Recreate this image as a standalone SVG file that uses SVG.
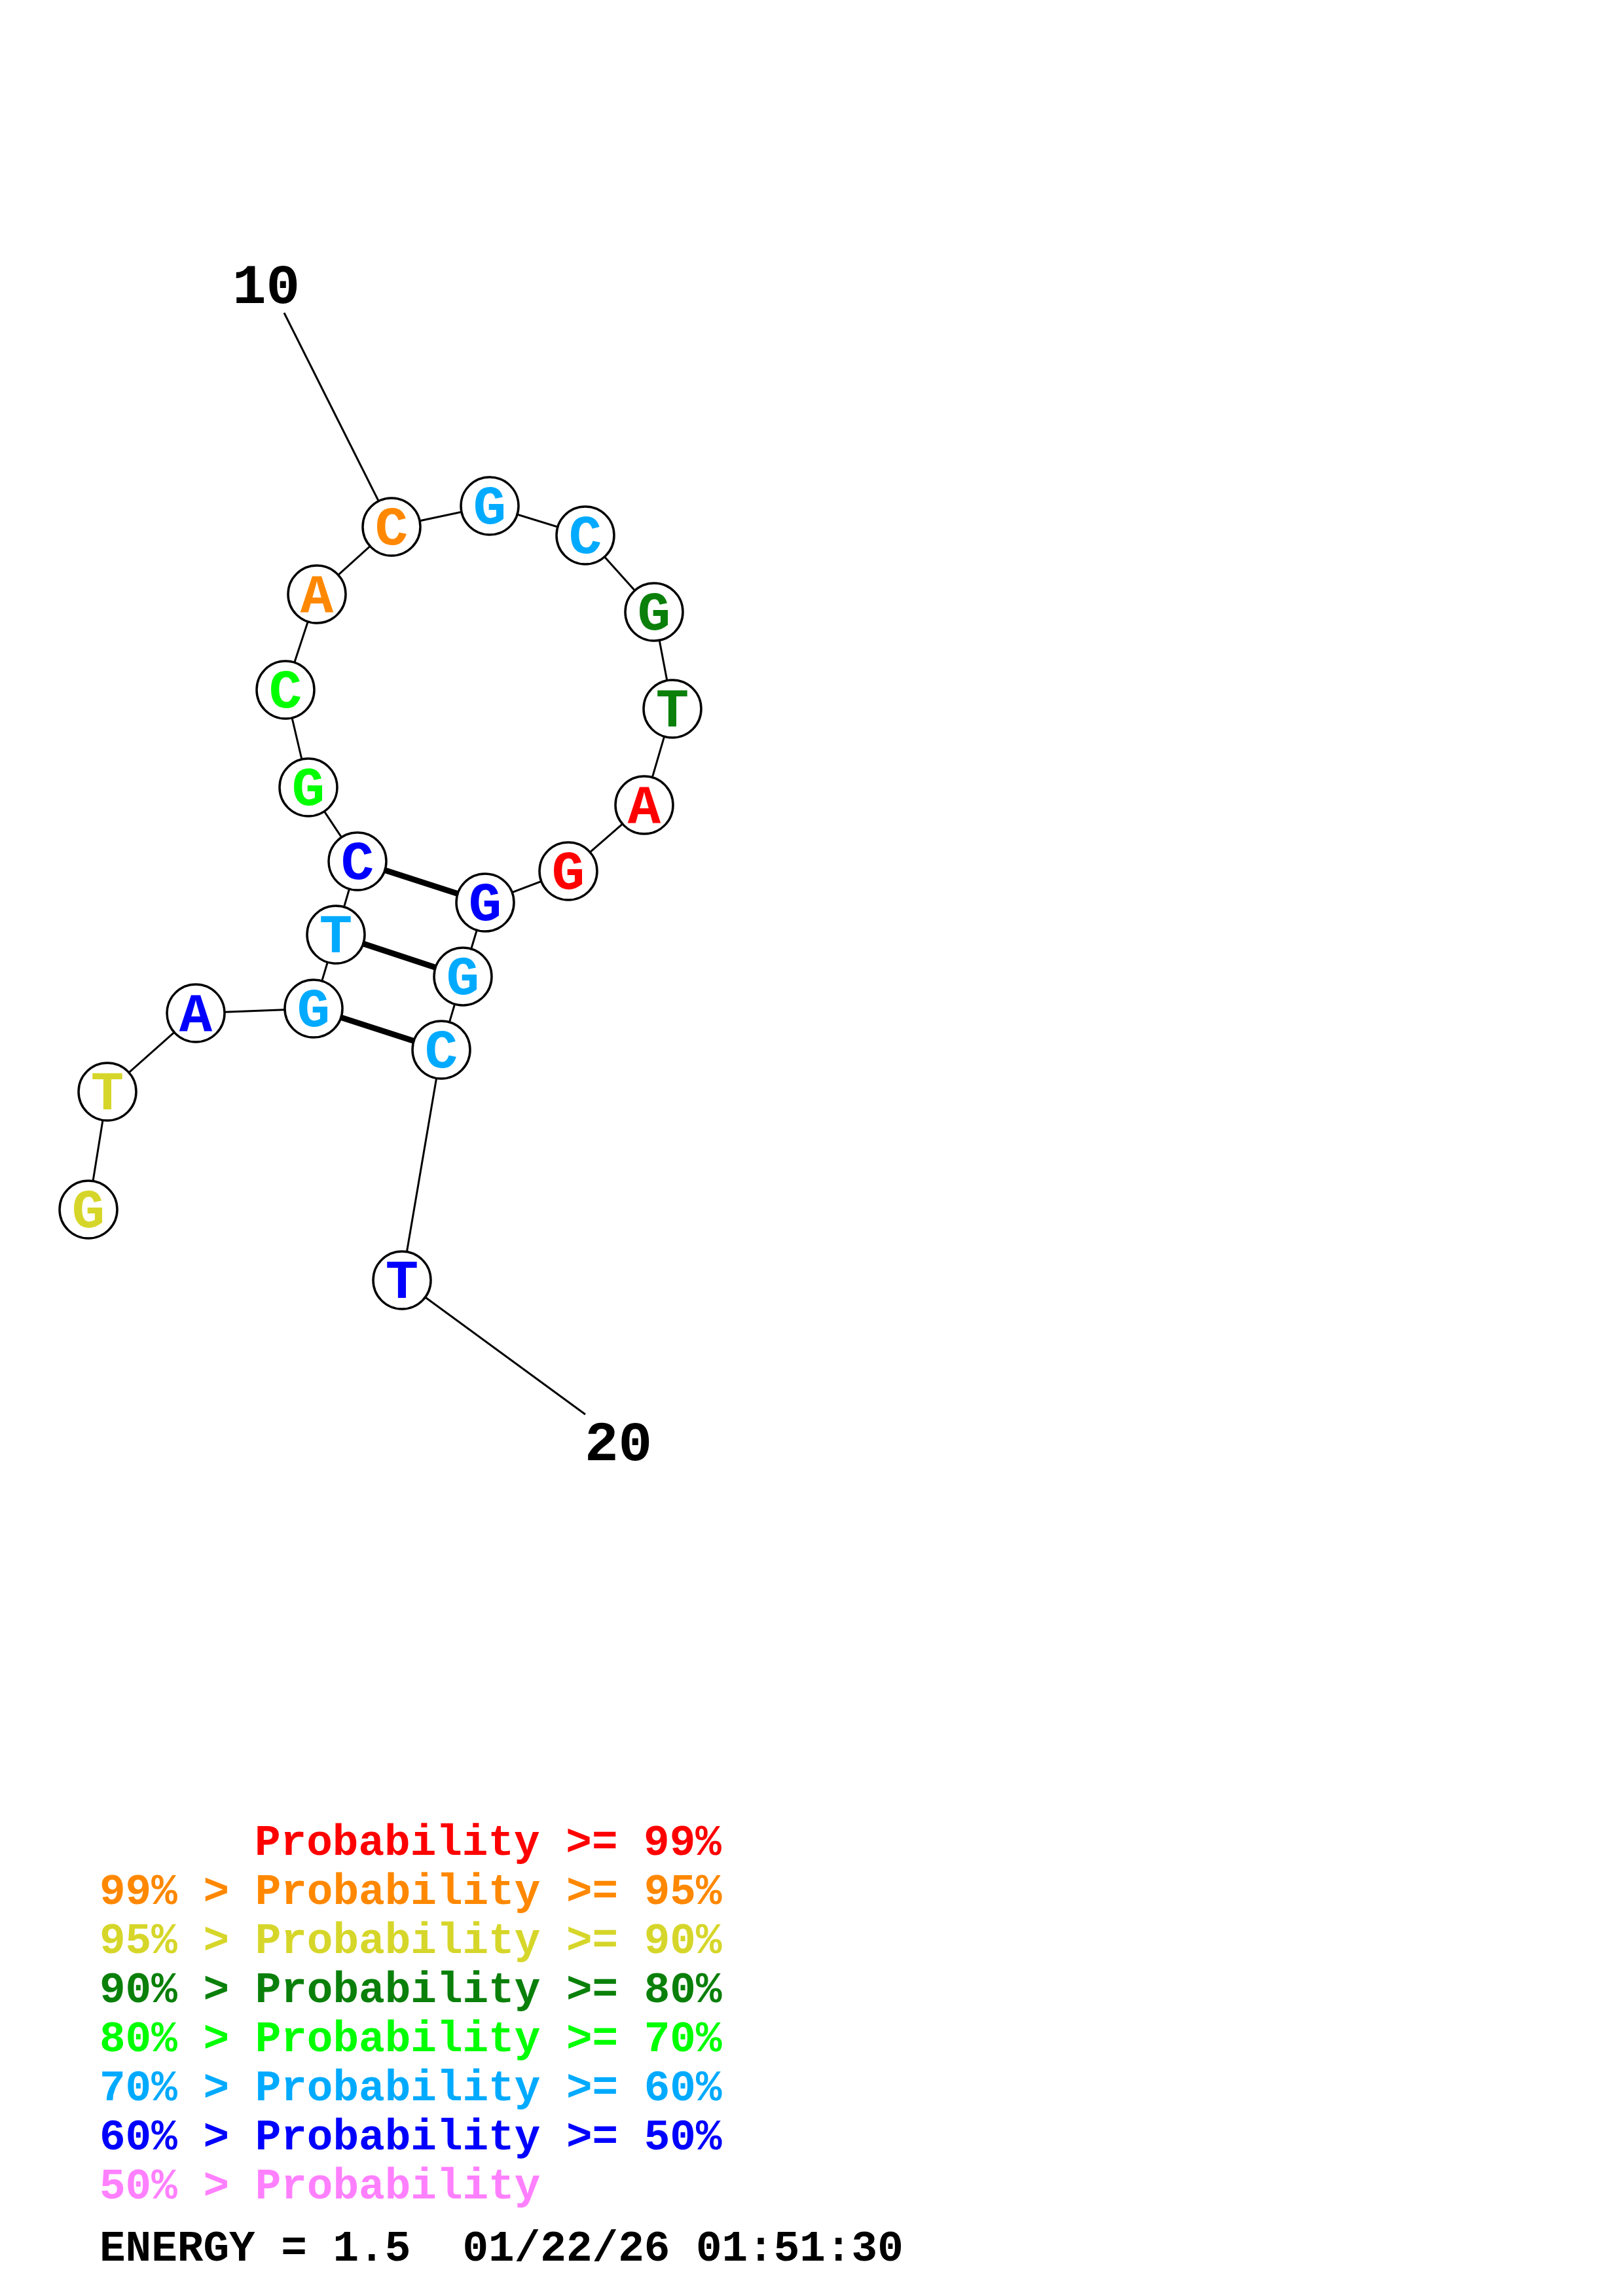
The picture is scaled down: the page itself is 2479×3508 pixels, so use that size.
<svg xmlns="http://www.w3.org/2000/svg" width="2479" height="3508" viewBox="0 0 2479 3508">
<style>
.bb{stroke:#000;stroke-width:3;fill:none}
.pr{stroke:#000;stroke-width:9;fill:none}
.nc{fill:#fff;stroke:#000;stroke-width:3.5}
.nt{font-family:"Liberation Mono",monospace;font-weight:bold;font-size:84px;text-anchor:middle}
.lb{font-family:"Liberation Mono",monospace;font-weight:bold;font-size:86px;fill:#000}
.lg{font-family:"Liberation Mono",monospace;font-weight:bold;font-size:66px;white-space:pre}
.r{fill:#ff0000}.o{fill:#ff8800}.y{fill:#d6d62a}.dg{fill:#0a800a}.g{fill:#00ff00}.c{fill:#00aaff}.b{fill:#0000ff}.p{fill:#ff80ff}
</style>
<rect width="2479" height="3508" fill="#fff"/>
<g id="connectors">
<line class="bb" x1="434" y1="478" x2="598" y2="805"/>
<line class="bb" x1="894" y1="2161" x2="614" y2="1956"/>
<polyline class="bb" points="135,1848 164,1668 299,1548 479,1541 513,1428 546,1316 471,1203 436,1054 484,908 598,805 748,773 894,818 999,935 1027,1083 984,1230 868,1331 741,1379 707,1492 674,1604 614,1956"/>
<line class="pr" x1="479" y1="1541" x2="674" y2="1604"/>
<line class="pr" x1="513" y1="1428" x2="707" y2="1492"/>
<line class="pr" x1="546" y1="1316" x2="741" y2="1379"/>
</g>
<g id="label10"><text class="lb" x="355" y="463">10</text></g>
<g id="label20"><text class="lb" x="893" y="2231">20</text></g>
<g id="n1"><circle class="nc" cx="135" cy="1848" r="44"/><text class="nt y" x="135" y="1875">G</text></g>
<g id="n2"><circle class="nc" cx="164" cy="1668" r="44"/><text class="nt y" x="164" y="1695">T</text></g>
<g id="n3"><circle class="nc" cx="299" cy="1548" r="44"/><text class="nt b" x="299" y="1575">A</text></g>
<g id="n4"><circle class="nc" cx="479" cy="1541" r="44"/><text class="nt c" x="479" y="1568">G</text></g>
<g id="n5"><circle class="nc" cx="513" cy="1428" r="44"/><text class="nt c" x="513" y="1455">T</text></g>
<g id="n6"><circle class="nc" cx="546" cy="1316" r="44"/><text class="nt b" x="546" y="1343">C</text></g>
<g id="n7"><circle class="nc" cx="471" cy="1203" r="44"/><text class="nt g" x="471" y="1230">G</text></g>
<g id="n8"><circle class="nc" cx="436" cy="1054" r="44"/><text class="nt g" x="436" y="1081">C</text></g>
<g id="n9"><circle class="nc" cx="484" cy="908" r="44"/><text class="nt o" x="484" y="935">A</text></g>
<g id="n10"><circle class="nc" cx="598" cy="805" r="44"/><text class="nt o" x="598" y="832">C</text></g>
<g id="n11"><circle class="nc" cx="748" cy="773" r="44"/><text class="nt c" x="748" y="800">G</text></g>
<g id="n12"><circle class="nc" cx="894" cy="818" r="44"/><text class="nt c" x="894" y="845">C</text></g>
<g id="n13"><circle class="nc" cx="999" cy="935" r="44"/><text class="nt dg" x="999" y="962">G</text></g>
<g id="n14"><circle class="nc" cx="1027" cy="1083" r="44"/><text class="nt dg" x="1027" y="1110">T</text></g>
<g id="n15"><circle class="nc" cx="984" cy="1230" r="44"/><text class="nt r" x="984" y="1257">A</text></g>
<g id="n16"><circle class="nc" cx="868" cy="1331" r="44"/><text class="nt r" x="868" y="1358">G</text></g>
<g id="n17"><circle class="nc" cx="741" cy="1379" r="44"/><text class="nt b" x="741" y="1406">G</text></g>
<g id="n18"><circle class="nc" cx="707" cy="1492" r="44"/><text class="nt c" x="707" y="1519">G</text></g>
<g id="n19"><circle class="nc" cx="674" cy="1604" r="44"/><text class="nt c" x="674" y="1631">C</text></g>
<g id="n20"><circle class="nc" cx="614" cy="1956" r="44"/><text class="nt b" x="614" y="1983">T</text></g>
<g id="legend">
<text class="lg r" x="389" y="2834">Probability &gt;= 99%</text>
<text class="lg o" x="152" y="2909">99% &gt; Probability &gt;= 95%</text>
<text class="lg y" x="152" y="2984">95% &gt; Probability &gt;= 90%</text>
<text class="lg dg" x="152" y="3059">90% &gt; Probability &gt;= 80%</text>
<text class="lg g" x="152" y="3134">80% &gt; Probability &gt;= 70%</text>
<text class="lg c" x="152" y="3209">70% &gt; Probability &gt;= 60%</text>
<text class="lg b" x="152" y="3284">60% &gt; Probability &gt;= 50%</text>
<text class="lg p" x="152" y="3359">50% &gt; Probability</text>
<text class="lg" x="152" y="3454" fill="#000" xml:space="preserve">ENERGY = 1.5  01/22/26 01:51:30</text>
</g>
</svg>
